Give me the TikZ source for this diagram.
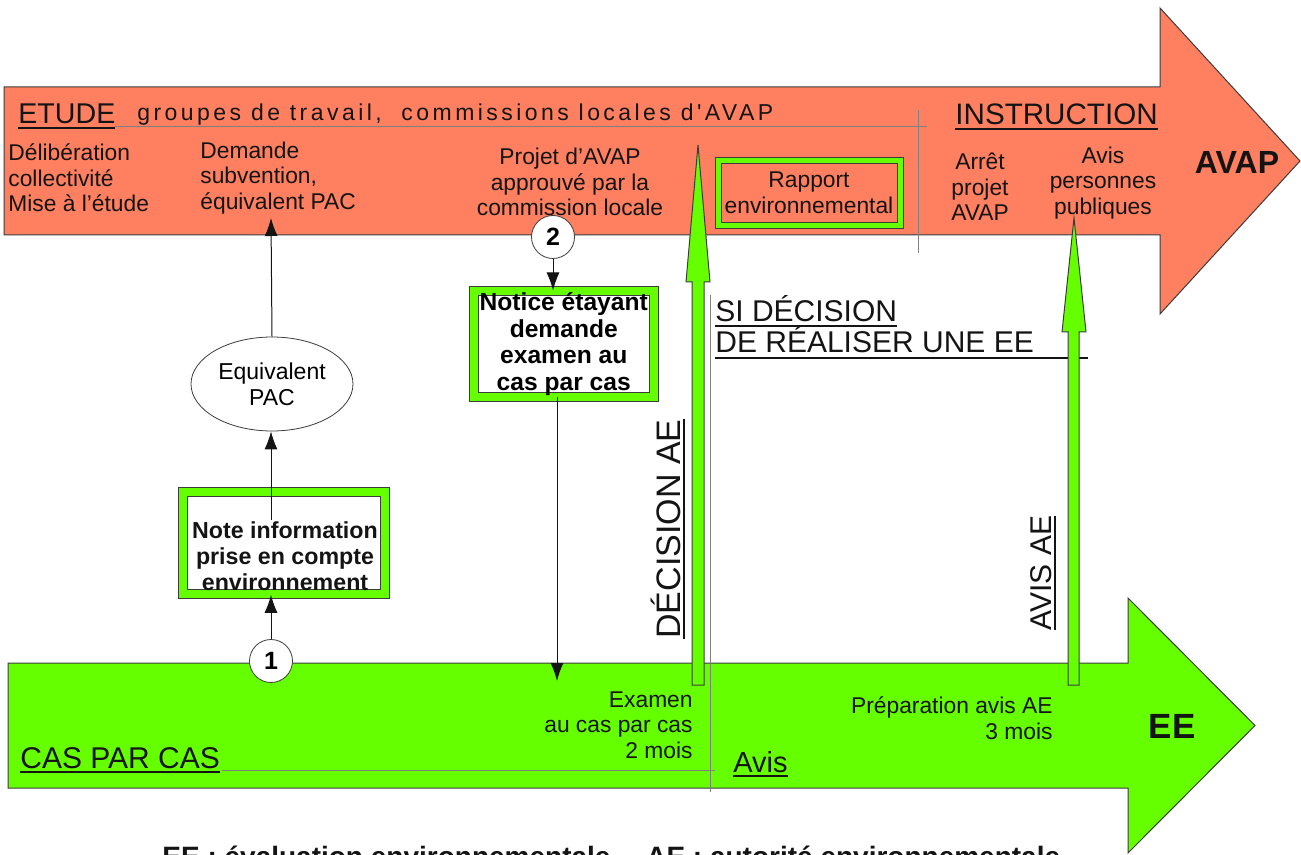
\documentclass[tikz,border=0pt]{standalone}
\usepackage{fontspec}
\setmainfont{Liberation Sans}
\newfontfamily\spacedfont[LetterSpace=15]{Liberation Sans}
\usetikzlibrary{arrows.meta,shapes.geometric}
\newsavebox\ulbox
\newcommand\myul[1]{\sbox\ulbox{#1}\rlap{\usebox\ulbox}\raisebox{-2.4pt}{\rule{\wd\ulbox}{0.9pt}}}
\definecolor{avaporange}{RGB}{255,128,96}
\definecolor{eegreen}{RGB}{102,255,0}
\definecolor{edgegray}{RGB}{60,60,60}
\definecolor{inkblack}{RGB}{20,20,20}
\tikzset{
  body/.style={font=\fontsize{11.4}{12.8}\selectfont, inner sep=0pt, text=inkblack},
  framebox/.style={draw=edgegray, line width=0.5pt, double=eegreen, double distance=4pt, fill=white, inner sep=0pt},
  conn/.style={draw=inkblack, line width=0.5pt, -{Latex[length=9pt,width=6.5pt]}},
  bigarrow/.style={fill=eegreen, draw=edgegray, line width=0.5pt},
  guide/.style={draw=gray, line width=0.5pt},
  bandarrow/.style={draw=edgegray, line width=0.5pt},
  num/.style={circle, draw=edgegray, fill=white, minimum size=21.5pt, inner sep=0pt, font=\bfseries\fontsize{12.5}{12.5}\selectfont},
  head/.style={inner sep=0pt, text=inkblack},
}
\begin{document}
\begin{tikzpicture}[x=0.5pt,y=-0.5pt]
\useasboundingbox (0,0) rectangle (1301,855);
% legend (cut by the page edge, as in the reference)
\node[head, anchor=base west, font=\bfseries\fontsize{14}{14}\selectfont] (legend) at (162,866) {EE : évaluation environnementale \quad AE : autorité environnementale};
% band arrows
\draw[bandarrow, fill=avaporange] (4,87) -- (1160,87) -- (1160,8) -- (1300,161) -- (1160,314) -- (1160,235) -- (4,235) -- cycle;
\draw[bandarrow, fill=eegreen] (8,663) -- (1128,663) -- (1128,598) -- (1255,725.5) -- (1128,853) -- (1128,788) -- (8,788) -- cycle;
% guide lines
\draw[guide] (115,127) -- (927,127);
\draw[guide] (918,110) -- (918,253);
\draw[guide] (222,770) -- (715,770);
\draw[guide] (710,295) -- (710,792);
% AVAP band texts
\node[head, anchor=base west, font=\fontsize{14.3}{14.3}\selectfont] (etude) at (18,124) {\myul{ETUDE}};
\node[head, anchor=base west, font=\spacedfont\fontsize{11.5}{11.5}\selectfont] (groupes) at (137,121) {groupes de travail,\ \ commissions locales d'AVAP};
\node[head, anchor=base west, font=\fontsize{14.8}{14.8}\selectfont] (instr) at (955,125) {\myul{INSTRUCTION}};
\node[body, anchor=west, align=left] (delib) at (8,178) {Délibération\\collectivité\\Mise à l'étude};
\node[body, anchor=west, align=left] (demande) at (200,178) {Demande\\subvention,\\équivalent PAC};
\node[body, align=center] (projet) at (570,182) {Projet d'AVAP\\approuvé par la\\commission locale};
\node[body, align=center] (arret) at (980,187) {Arrêt\\projet\\AVAP};
\node[body, align=center] (avis) at (1103,183) {Avis\\personnes\\publiques};
\node[head, font=\bfseries\fontsize{16}{16}\selectfont] (avap) at (1237,162) {AVAP};
\node[framebox, fill=avaporange, double distance=2.5pt, minimum width=91pt, minimum height=32.75pt, body, align=center] (rapport) at (809,193) {Rapport\\environnemental};
% EE band texts
\node[body, align=right, anchor=east] (examen) at (693,725) {Examen\\au cas par cas\\2 mois};
\node[body, align=right, anchor=east] (prep) at (1053,718) {Préparation avis AE\\3 mois};
\node[head, font=\bfseries\fontsize{17.5}{17.5}\selectfont] (ee) at (1172,726) {EE};
\node[head, anchor=base west, font=\fontsize{15}{15}\selectfont] (cpc) at (20,768) {\myul{CAS PAR CAS}};
\node[head, anchor=base west, font=\fontsize{14.5}{14.5}\selectfont] (avisg) at (733,772) {\myul{Avis}};
% middle texts
\node[head, anchor=base west, font=\fontsize{15}{15}\selectfont] (si) at (715,322) {\myul{SI DÉCISION}};
\node[head, anchor=base west, font=\fontsize{15}{15}\selectfont] (real) at (715,353) {DE RÉALISER UNE EE};
\draw[inkblack, line width=1pt] (715,358) -- (1088,358);
\node[head, rotate=90, font=\fontsize{17}{17}\selectfont] (decision) at (668,529) {\myul{DÉCISION AE}};
\node[head, rotate=90, font=\fontsize{15}{15}\selectfont] (avisae) at (1043,573) {\myul{AVIS AE}};
% boxes
\node[framebox, minimum width=90.25pt, minimum height=53pt, align=center, font=\bfseries\fontsize{12.3}{13.2}\selectfont] (notice) at (563.75,344) {Notice étayant\\demande\\examen au\\cas par cas};
\node[framebox, minimum width=101pt, minimum height=51.25pt] (noteframe) at (284,543) {};
\node[head, align=center, font=\bfseries\fontsize{11.6}{13}\selectfont] (notetext) at (285,556) {Note information\\prise en compte\\environnement};
\node[ellipse, draw=edgegray, fill=white, minimum width=81pt, minimum height=47pt, inner sep=0pt, align=center, font=\fontsize{11.5}{13}\selectfont] (pac) at (272,384) {Equivalent\\PAC};
\node[num] (c2) at (553,237) {2};
\node[num] (c1) at (271,661) {1};
% connectors
\coordinate (orangein) at (271,218);
\coordinate (notestart) at (271,520);
\coordinate (greenin) at (557,681);
\draw[conn] (c1.north) -- (c1.north |- noteframe.south);
\draw[conn] (notestart) -- (notestart |- pac.south);
\draw[conn] (pac.north) -- (orangein);
\draw[conn] (c2.south) -- (c2.south |- notice.north);
\draw[conn] (notice.south -| greenin) -- (greenin);
% big green arrows
\draw[bigarrow] (692,685) -- (692,282) -- (686,282) -- (698,145) -- (710,282) -- (704,282) -- (704,685) -- cycle;
\draw[bigarrow] (1068,685) -- (1068,332) -- (1062,332) -- (1074,218) -- (1086,332) -- (1079,332) -- (1079,685) -- cycle;
\end{tikzpicture}
\end{document}
